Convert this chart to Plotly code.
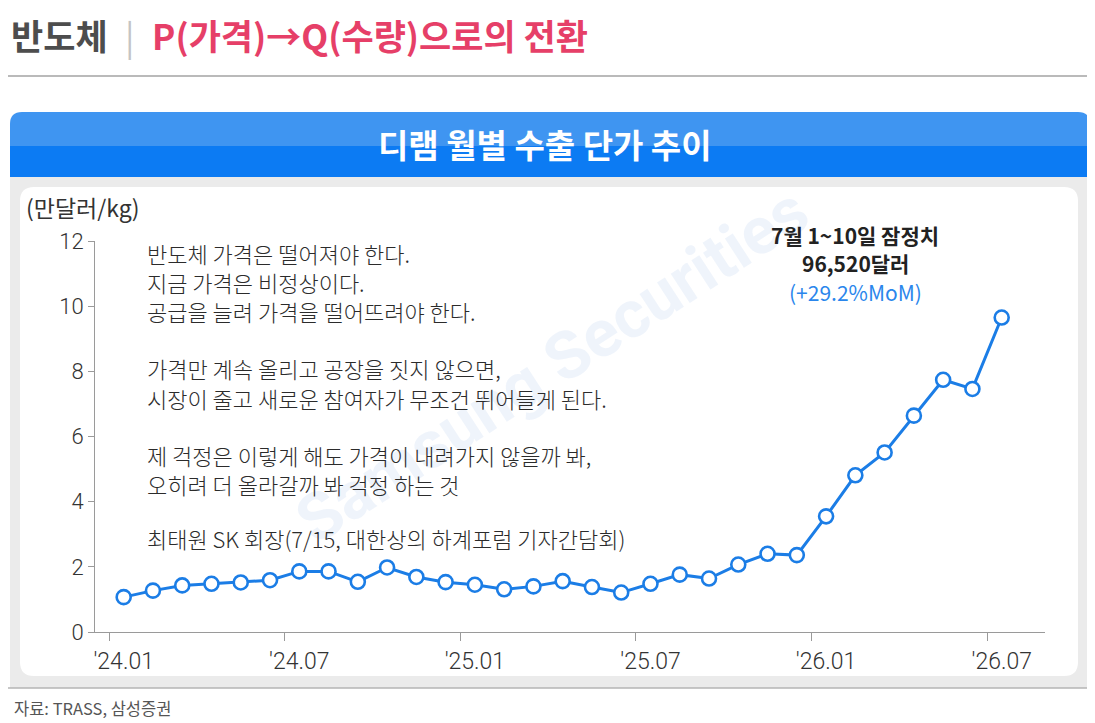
import plotly.graph_objects as go

# ---------------- data ----------------
months = ["2024-01", "2024-02", "2024-03", "2024-04", "2024-05", "2024-06",
          "2024-07", "2024-08", "2024-09", "2024-10", "2024-11", "2024-12",
          "2025-01", "2025-02", "2025-03", "2025-04", "2025-05", "2025-06",
          "2025-07", "2025-08", "2025-09", "2025-10", "2025-11", "2025-12",
          "2026-01", "2026-02", "2026-03", "2026-04", "2026-05", "2026-06",
          "2026-07"]
dram_price = [1.07, 1.27, 1.43, 1.48, 1.52, 1.59,
              1.86, 1.86, 1.54, 1.98, 1.69, 1.53,
              1.45, 1.31, 1.40, 1.56, 1.38, 1.21,
              1.48, 1.76, 1.64, 2.07, 2.40, 2.36,
              3.55, 4.81, 5.51, 6.64, 7.74, 7.46,
              9.652]
tick_months = ["2024-01", "2024-07", "2025-01", "2025-07", "2026-01", "2026-07"]
tick_labels = ["'24.01", "'24.07", "'25.01", "'25.07", "'26.01", "'26.07"]
y_ticks = [0, 2, 4, 6, 8, 10, 12]

quote_lines = [
    "반도체 가격은 떨어져야 한다.",
    "지금 가격은 비정상이다.",
    "공급을 늘려 가격을 떨어뜨려야 한다.",
    "가격만 계속 올리고 공장을 짓지 않으면,",
    "시장이 줄고 새로운 참여자가 무조건 뛰어들게 된다.",
    "제 걱정은 이렇게 해도 가격이 내려가지 않을까 봐,",
    "오히려 더 올라갈까 봐 걱정 하는 것",
    "최태원 SK 회장(7/15, 대한상의 하계포럼 기자간담회)",
]
callout_lines = ["<b>7월 1~10일 잠정치</b>", "<b>96,520달러</b>", "(+29.2%MoM)"]

# ---------------- layout geometry ----------------
OFF = 8                      # page body margin in the screenshot
W, H = 1095 - OFF, 723 - OFF
L, T = 95 - OFF, 241 - OFF   # plot area (figure coords)
PW, PH = 950, 391
R, B = W - L - PW, H - T - PH


def px(x):
    """screenshot pixel x -> paper"""
    return (x - OFF - L) / PW


def py(y):
    """screenshot pixel y -> paper"""
    return (T + PH - (y - OFF)) / PH


# month index -> position (points and labels sit mid-month, ticks at month start)
idx = {m: i for i, m in enumerate(months)}
xpos = [idx[m] + 0.5 for m in months]
tick_bound = [idx[m] for m in tick_months]
label_pos = [idx[m] + 0.5 for m in tick_months]

KR = "Noto Sans CJK KR"
NUM = "Roboto"
BLUE = "#1b7de6"

fig = go.Figure()
fig.add_trace(go.Scatter(
    x=xpos, y=dram_price, mode="lines+markers",
    line=dict(color=BLUE, width=3),
    marker=dict(size=14, color="white", line=dict(color=BLUE, width=2.6)),
    cliponaxis=False, showlegend=False, hoverinfo="skip",
))


def rrect(x0, y0, x1, y1, r, top_only=False):
    """rounded rectangle path in paper coords (pixel input)"""
    if top_only:
        p = (f"M {px(x0)},{py(y1)} L {px(x0)},{py(y0 + r)} "
             f"Q {px(x0)},{py(y0)} {px(x0 + r)},{py(y0)} "
             f"L {px(x1 - r)},{py(y0)} Q {px(x1)},{py(y0)} {px(x1)},{py(y0 + r)} "
             f"L {px(x1)},{py(y1)} Z")
    else:
        p = (f"M {px(x0)},{py(y1 - r)} L {px(x0)},{py(y0 + r)} "
             f"Q {px(x0)},{py(y0)} {px(x0 + r)},{py(y0)} "
             f"L {px(x1 - r)},{py(y0)} Q {px(x1)},{py(y0)} {px(x1)},{py(y0 + r)} "
             f"L {px(x1)},{py(y1 - r)} Q {px(x1)},{py(y1)} {px(x1 - r)},{py(y1)} "
             f"L {px(x0 + r)},{py(y1)} Q {px(x0)},{py(y1)} {px(x0)},{py(y1 - r)} Z")
    return p


shapes = [
    # separator under title
    dict(type="line", xref="paper", yref="paper", x0=px(8), x1=px(1090),
         y0=py(76), y1=py(76), line=dict(color="#a3a3a3", width=1.5), layer="below"),
    # grey panel
    dict(type="rect", xref="paper", yref="paper", x0=px(10), x1=px(1090),
         y0=py(176), y1=py(688), fillcolor="#ebebeb", line=dict(width=0), layer="below"),
    dict(type="line", xref="paper", yref="paper", x0=px(8), x1=px(1092),
         y0=py(688), y1=py(688), line=dict(color="#b5b5b5", width=1.5), layer="below"),
    # blue header
    dict(type="path", xref="paper", yref="paper", path=rrect(10, 112, 1090, 147, 12, top_only=True),
         fillcolor="#3f95f1", line=dict(width=0), layer="below"),
    dict(type="rect", xref="paper", yref="paper", x0=px(10), x1=px(1090),
         y0=py(146), y1=py(177), fillcolor="#0c7bf3", line=dict(width=0), layer="below"),
    # white inner panel
    dict(type="path", xref="paper", yref="paper", path=rrect(20, 187, 1078, 676, 14),
         fillcolor="white", line=dict(width=0), layer="below"),
]

annotations = [
    # page title
    dict(x=px(9), y=py(34), xref="paper", yref="paper", xanchor="left", yanchor="middle",
         showarrow=False,
         text=("<b><span style='color:#4d4d4d'>반도체</span></b>"
               "<span style='color:#c4c4c4'>\u2002|\u2002</span>"
               "<b><span style='color:#e63f68'>P(가격)→Q(수량)으로의 전환</span></b>"),
         font=dict(family=KR, size=35)),
    # header
    dict(x=px(545), y=py(144), xref="paper", yref="paper", xanchor="center", yanchor="middle",
         showarrow=False, text="<b>디램 월별 수출 단가 추이</b>",
         font=dict(family=KR, size=33, color="white")),
    # watermark
    dict(x=px(552), y=py(365), xref="paper", yref="paper", xanchor="center", yanchor="middle",
         showarrow=False, text="<b>Samsung Securities</b>", textangle=-33,
         font=dict(family="Roboto", size=66, color="rgba(205,220,244,0.32)")),
    # unit label
    dict(x=px(24), y=py(207), xref="paper", yref="paper", xanchor="left", yanchor="middle",
         showarrow=False, text="(만달러/kg)", font=dict(family=KR, size=23, color="#333")),
    # source
    dict(x=px(12), y=py(708), xref="paper", yref="paper", xanchor="left", yanchor="middle",
         showarrow=False, text="자료: TRASS, 삼성증권", font=dict(family=KR, size=16.5, color="#555")),
]

# call-out (three stacked lines)
callout_y = [234.5, 263, 291.5]
callout_col = ["#222", "#222", "#2a86ec"]
for txt, yy, col in zip(callout_lines, callout_y, callout_col):
    annotations.append(dict(x=px(855), y=py(yy), xref="paper", yref="paper",
                            xanchor="center", yanchor="middle", showarrow=False, text=txt,
                            font=dict(family=KR, size=21, color=col)))

quote_y = [253, 282, 311, 368, 398, 455, 484, 538]
for line, yy in zip(quote_lines, quote_y):
    annotations.append(dict(x=px(145), y=py(yy), xref="paper", yref="paper",
                            xanchor="left", yanchor="middle", showarrow=False, text=line,
                            font=dict(family=KR, size=22, color="#2b2b2b", weight=300)))

fig.update_layout(
    width=W, height=H, autosize=False,
    margin=dict(l=L, r=R, t=T, b=B),
    paper_bgcolor="white", plot_bgcolor="rgba(0,0,0,0)",
    shapes=shapes, annotations=annotations,
    xaxis=dict(range=[-0.48, 31.98], tickmode="array", tickvals=label_pos, ticktext=tick_labels,
               showline=True, linecolor="#9a9a9a", linewidth=1, ticks="outside", ticklen=8,
               tickcolor="rgba(0,0,0,0)", showgrid=False, zeroline=False,
               tickfont=dict(family=NUM, size=23, color="#333", weight=300),
               minor=dict(tickmode="array", tickvals=tick_bound, ticks="outside", ticklen=8,
                          tickcolor="#9a9a9a", showgrid=False)),
    yaxis=dict(range=[0, 12], tickmode="array", tickvals=y_ticks,
               showline=True, linecolor="#9a9a9a", linewidth=1, ticks="outside", ticklen=6,
               tickcolor="#9a9a9a", showgrid=False, zeroline=False,
               tickfont=dict(family=NUM, size=22, color="#333", weight=300)),
)

fig.write_html("out.html")
